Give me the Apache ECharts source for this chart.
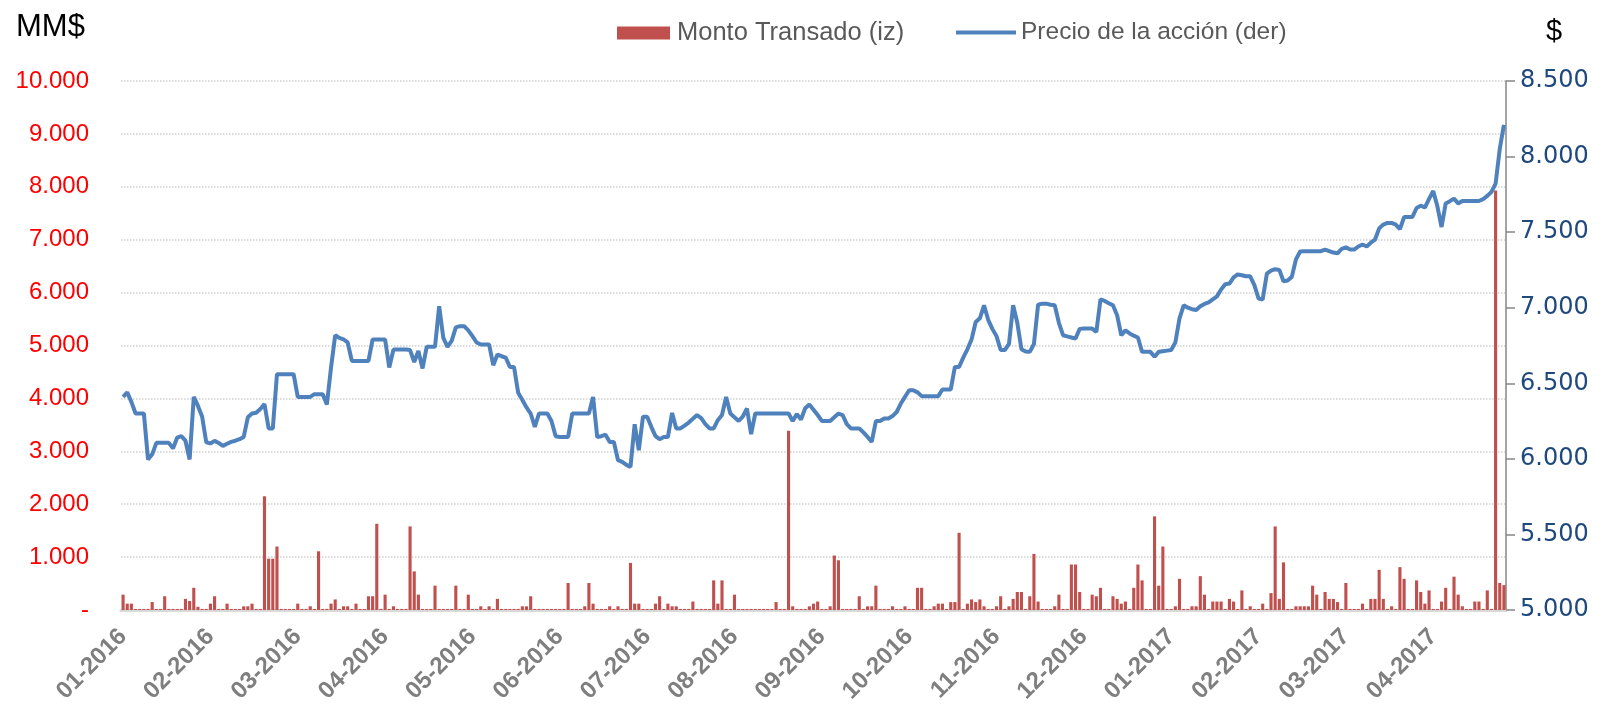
<!DOCTYPE html>
<html>
<head>
<meta charset="utf-8">
<script src="https://cdn.jsdelivr.net/npm/echarts@6/dist/echarts.min.js"></script>
<style>
  html, body { margin: 0; padding: 0; background: #fff; }
  #chart { width: 1617px; height: 710px; }
</style>
</head>
<body>
<div id="chart"></div>
<script>
// etiquetas del eje X: una cada 21 ruedas bursátiles
const tickLabels = [
  "01-2016", "02-2016", "03-2016", "04-2016", "05-2016", "06-2016", "07-2016", "08-2016",
  "09-2016", "10-2016", "11-2016", "12-2016", "01-2017", "02-2017", "03-2017", "04-2017"
];
const labelStep = 21;

// Precio de la acción ($), una cifra por rueda
const precio = [
  6410,6440,6377,6300,6300,6300,5996,6030,6106,6106,
  6106,6106,6069,6140,6150,6120,5996,6410,6350,6280,
  6110,6102,6119,6105,6086,6100,6112,6120,6130,6145,
  6275,6300,6305,6330,6362,6201,6201,6560,6560,6560,
  6560,6560,6410,6410,6410,6410,6428,6428,6428,6360,
  6604,6818,6800,6790,6770,6648,6648,6648,6648,6648,
  6790,6790,6790,6790,6604,6723,6723,6723,6723,6720,
  6641,6714,6598,6741,6741,6741,7010,6800,6741,6781,
  6870,6878,6878,6850,6812,6770,6757,6757,6757,6620,
  6690,6679,6670,6608,6608,6437,6390,6340,6300,6212,
  6300,6300,6300,6251,6150,6145,6145,6145,6300,6300,
  6300,6300,6300,6410,6145,6150,6160,6112,6112,5991,
  5980,5960,5947,6229,6057,6278,6278,6212,6150,6130,
  6145,6145,6304,6201,6201,6220,6240,6265,6290,6270,
  6230,6201,6201,6256,6290,6410,6300,6275,6251,6280,
  6333,6163,6300,6300,6300,6300,6300,6300,6300,6300,
  6300,6251,6296,6260,6335,6360,6325,6290,6251,6251,
  6251,6275,6300,6290,6230,6201,6201,6201,6175,6145,
  6112,6250,6250,6267,6267,6283,6310,6366,6410,6454,
  6454,6440,6415,6415,6415,6415,6415,6459,6459,6459,
  6608,6608,6670,6725,6790,6905,6930,7016,6920,6860,
  6812,6720,6720,6760,7016,6900,6725,6710,6708,6760,
  7020,7027,7027,7020,7016,6900,6818,6810,6803,6796,
  6860,6862,6862,6862,6840,7055,7045,7030,7016,6950,
  6818,6850,6830,6815,6803,6708,6708,6708,6675,6708,
  6712,6716,6720,6770,6930,7016,7000,6990,6985,7010,
  7025,7035,7055,7075,7120,7155,7160,7200,7220,7215,
  7208,7208,7150,7061,7054,7225,7245,7255,7250,7175,
  7180,7204,7320,7372,7374,7374,7374,7374,7374,7385,
  7375,7365,7360,7390,7400,7385,7385,7405,7418,7405,
  7430,7450,7525,7550,7561,7561,7550,7520,7600,7600,
  7600,7660,7675,7663,7720,7772,7671,7534,7690,7705,
  7722,7690,7706,7706,7706,7706,7706,7718,7740,7766,
  7821,8050,8210
];

// Monto transado (MM$)
const monto = [
  290,120,120,20,20,20,20,150,20,20,
  260,20,20,20,20,210,170,420,60,20,
  20,120,260,20,20,120,20,20,20,70,
  70,120,20,20,2150,970,970,1200,20,20,
  20,20,120,20,20,70,20,1110,20,20,
  120,200,20,70,70,20,120,20,20,260,
  260,1630,20,290,20,70,20,20,20,1580,
  730,290,20,20,20,460,20,20,20,20,
  460,20,20,290,20,20,70,20,70,20,
  210,20,20,20,20,20,70,70,260,20,
  20,20,20,20,20,20,20,510,20,20,
  20,70,510,120,20,20,20,70,20,70,
  20,20,890,120,120,20,20,20,120,260,
  20,120,70,70,20,20,20,160,20,20,
  20,20,560,120,560,20,20,290,20,20,
  20,20,20,20,20,20,20,150,20,20,
  3390,70,20,20,20,70,120,160,20,20,
  70,1030,940,20,20,20,20,260,20,70,
  70,460,20,20,20,70,20,20,70,20,
  20,420,420,20,20,70,120,120,20,150,
  150,1460,20,120,200,150,200,70,20,20,
  70,260,20,70,210,340,340,20,260,1060,
  160,20,20,20,70,290,20,20,860,860,
  340,20,20,290,260,420,20,20,260,210,
  120,160,20,420,860,560,20,20,1770,460,
  1200,20,20,70,590,20,20,70,70,640,
  290,20,160,160,160,20,210,160,20,370,
  20,70,20,20,120,20,320,1580,210,900,
  20,20,70,70,70,70,460,290,20,340,
  210,210,150,20,510,20,20,20,120,20,
  210,210,760,210,20,70,20,810,590,20,
  20,560,340,120,370,20,20,160,420,20,
  630,290,70,20,20,160,160,20,370,20,
  7930,510,470
];

const ruedas = precio.map((_, i) => i);

function miles(v) {
  return String(v).replace(/\B(?=(\d{3})+(?!\d))/g, ".");
}

const chart = echarts.init(document.getElementById("chart"));

const option = {
  animation: false,
  backgroundColor: "#ffffff",
  grid: { left: 121, right: 111, top: 81, bottom: 100, containLabel: false },
  legend: [
    {
      data: [{ name: "Monto Transado (iz)", icon: "rect" }],
      left: 612, top: 15,
      itemWidth: 53, itemHeight: 13, itemGap: 8,
      textStyle: { color: "#595959", fontSize: 25.5, fontFamily: "Liberation Sans", padding: [0, 0, 0, 2] }
    },
    {
      data: [{ name: "Precio de la acción (der)", icon: "rect" }],
      left: 951, top: 15,
      itemWidth: 60, itemHeight: 4, itemGap: 8,
      textStyle: { color: "#595959", fontSize: 24.5, fontFamily: "Liberation Sans" }
    }
  ],
  graphic: [
    {
      type: "text", left: 16, top: 12,
      style: { text: "MM$", fill: "#000", fontSize: 31, fontFamily: "Liberation Sans" }
    },
    {
      type: "text", left: 1546, top: 17,
      style: { text: "$", fill: "#000", fontSize: 29, fontFamily: "Liberation Sans" }
    }
  ],
  xAxis: {
    type: "category",
    data: ruedas,
    boundaryGap: true,
    axisLine: { show: true, lineStyle: { color: "#d9d9d9", width: 3 } },
    axisTick: { show: false },
    axisLabel: {
      interval: (index) => index % labelStep === 0,
      formatter: (val, index) => tickLabels[index / labelStep] || "",
      rotate: 45,
      margin: 23,
      color: "#7f7f7f",
      fontWeight: "bold",
      fontSize: 24,
      fontFamily: "Liberation Sans"
    }
  },
  yAxis: [
    {
      type: "value",
      min: 0, max: 10000, interval: 1000,
      axisLine: { show: false },
      axisTick: { show: false },
      axisLabel: {
        color: "#ff0000",
        fontSize: 24,
        fontFamily: "Liberation Sans",
        margin: 32,
        formatter: (v) => (v === 0 ? "-" : miles(v))
      },
      splitLine: { show: true, lineStyle: { color: "#d0d0d0", width: 1.5, type: "dotted" } }
    },
    {
      type: "value",
      min: 5000, max: 8500, interval: 500,
      position: "right",
      axisLine: { show: true, lineStyle: { color: "#868686", width: 1.5 } },
      axisTick: { show: true, inside: false, length: 9, lineStyle: { color: "#868686", width: 1.5 } },
      axisLabel: {
        color: "#1f497d",
        fontSize: 24,
        fontFamily: "DejaVu Sans",
        margin: 14,
        formatter: (v) => miles(v)
      },
      splitLine: { show: false }
    }
  ],
  series: [
    {
      name: "Monto Transado (iz)",
      type: "bar",
      data: monto,
      yAxisIndex: 0,
      barCategoryGap: "25%",
      itemStyle: { color: "#c0504d" }
    },
    {
      name: "Precio de la acción (der)",
      type: "line",
      data: precio,
      yAxisIndex: 1,
      showSymbol: false,
      lineStyle: { color: "#4f81bd", width: 4 },
      itemStyle: { color: "#4f81bd" }
    }
  ]
};

chart.setOption(option);
</script>
</body>
</html>
